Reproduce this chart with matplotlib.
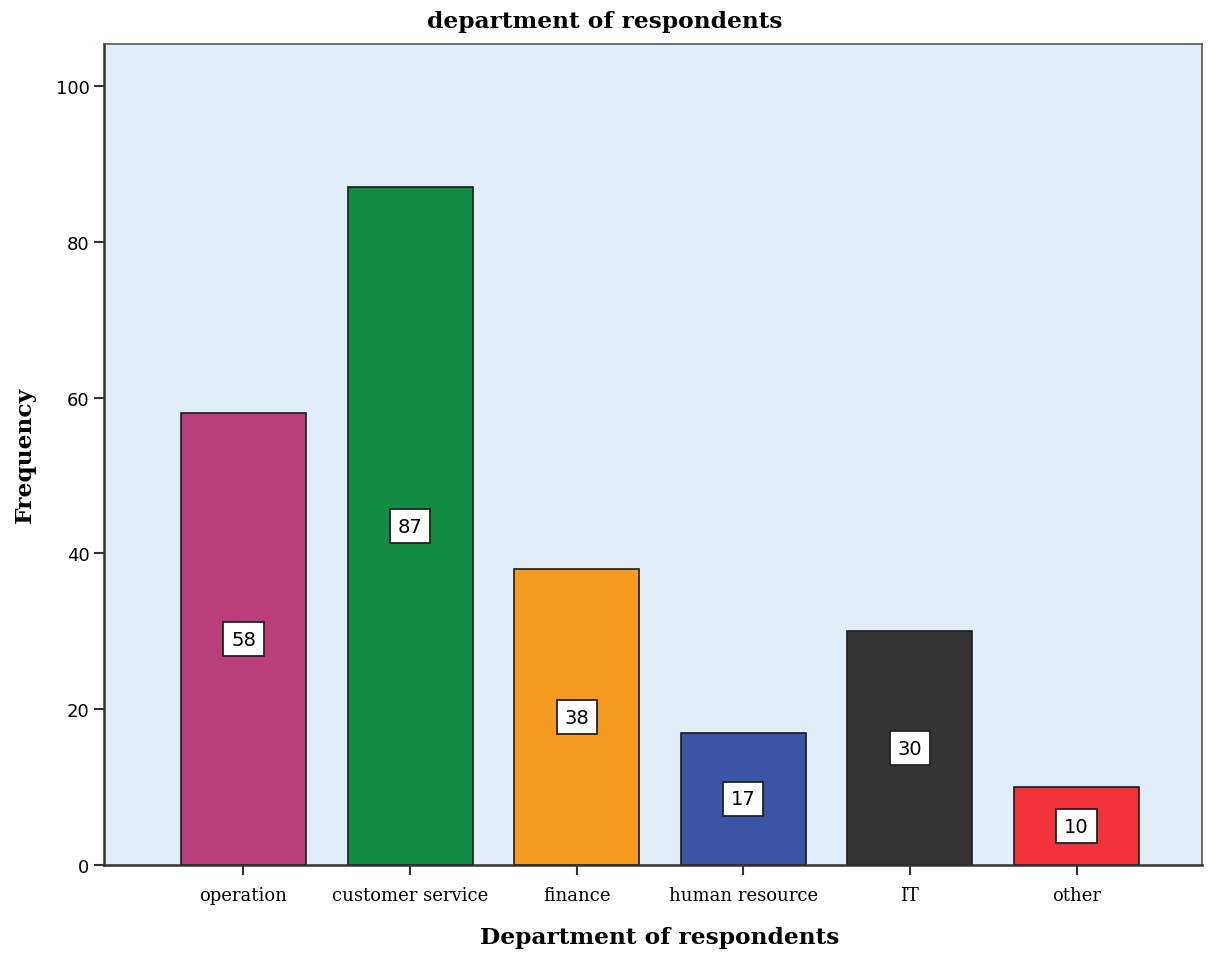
import numpy as np
import matplotlib.pyplot as plt

# Department frequencies
departments = ['operation', 'customer service', 'finance', 'human resource', 'IT', 'other']
counts = [58, 87, 38, 17, 30, 10]
bar_colors = ['#B93E79', '#118C45', '#F59A1F', '#3A55A6', '#333333', '#EF3338']

serif = ['DejaVu Serif']
sans = ['DejaVu Sans']

W, H = 1217, 954
fig = plt.figure(figsize=(W / 100, H / 100), dpi=100)
ax = fig.add_axes([104 / W, 88 / H, 1098 / W, 821 / H])
ax.set_facecolor('#E1EDF9')

x = np.arange(len(departments))
ax.bar(x, counts, width=0.75, color=bar_colors, edgecolor='#1a1a1a', linewidth=1.2, zorder=2)

# value labels in white boxes at mid-height of each bar
for xi, c in zip(x, counts):
    ax.text(xi, c / 2, str(c), ha='center', va='center', fontsize=14, family=sans,
            bbox=dict(boxstyle='square,pad=0.4', facecolor='white', edgecolor='#222222', linewidth=1.3),
            zorder=3)

ax.set_xlim(-0.837, 5.753)
ax.set_ylim(0, 105.4)
ax.set_yticks([0, 20, 40, 60, 80, 100])
ax.set_xticks(x)
ax.set_xticklabels(departments, family=serif, fontsize=13)
for lbl in ax.get_yticklabels():
    lbl.set_family(sans)
    lbl.set_fontsize(13)

ax.tick_params(axis='both', direction='out', length=7, width=1.5, color='#333333')
ax.tick_params(axis='x', pad=8)
for side in ['left', 'bottom']:
    ax.spines[side].set_linewidth(1.8)
    ax.spines[side].set_color('#333333')
for side in ['top', 'right']:
    ax.spines[side].set_linewidth(1.2)
    ax.spines[side].set_color('#555555')

fig.text(605 / W, 1 - 22 / H, 'department of respondents', family=serif, fontsize=16.8,
         fontweight='bold', ha='center', va='center')
fig.text(660 / W, 1 - 938 / H, 'Department of respondents', family=serif, fontsize=16.8,
         fontweight='bold', ha='center', va='center')
fig.text(25 / W, 1 - 455 / H, 'Frequency', family=serif, fontsize=16.8,
         fontweight='bold', ha='center', va='center', rotation=90)

fig.savefig('out.png', dpi=100)
